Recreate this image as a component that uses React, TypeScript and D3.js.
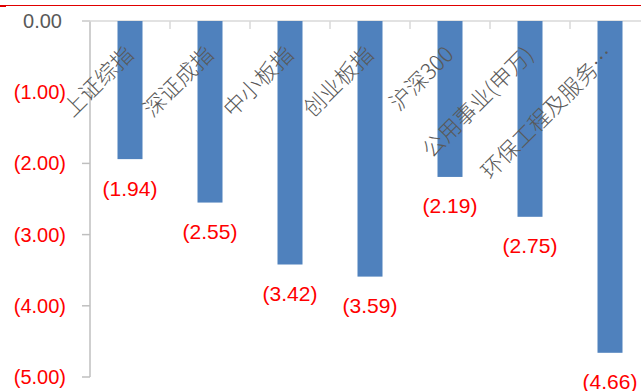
import React from "react";
import * as d3 from "d3";

const categories = ["上证综指", "深证成指", "中小板指", "创业板指", "沪深300", "公用事业(申万)", "环保工程及服务…"];
const changes = [-1.94, -2.55, -3.42, -3.59, -2.19, -2.75, -4.66];
const yTicks = [0, -1, -2, -3, -4, -5];

const W = 641;
const H = 391;

const fmt = (v: number) => {
  const s = Math.abs(v).toFixed(2);
  return v < 0 ? `(${s})` : s;
};

export default function App() {
  const x = d3
    .scaleBand<string>()
    .domain(categories)
    .range([90, 650])
    .paddingInner(0.6875)
    .paddingOuter(0.34375);
  const y = d3.scaleLinear().domain([0, -5]).range([21, 377]);
  const step = x.step();
  const numFont = "'Liberation Sans', Arial, sans-serif";
  const cjkFont = "'Noto Sans CJK SC', 'Liberation Sans', sans-serif";

  return (
    <svg
      width={W}
      height={H}
      style={{ position: "absolute", left: 0, top: 0, background: "#fff" }}
    >
      {/* header rule */}
      <line x1={0} x2={W} y1={5.5} y2={5.5} stroke="#E00000" strokeWidth={1} />
      <rect x={0} y={5} width={6} height={2} fill="#E00000" />

      {/* y axis */}
      <line x1={90} x2={90} y1={y(0)} y2={y(-5)} stroke="#BFBFBF" strokeWidth={1.5} />
      {yTicks.map((t) => (
        <g key={t}>
          <line x1={82} x2={90} y1={y(t)} y2={y(t)} stroke="#BFBFBF" strokeWidth={1.5} />
          <text
            x={t === 0 ? 62 : 66}
            y={y(t)}
            textAnchor="end"
            dominantBaseline="central"
            fontFamily={numFont}
            fontSize={20}
            fill={t === 0 ? "#595959" : "#FF0000"}
          >
            {fmt(t)}
          </text>
        </g>
      ))}

      {/* category axis at zero */}
      <line x1={82} x2={W} y1={y(0)} y2={y(0)} stroke="#D9D9D9" strokeWidth={1.5} />
      {categories.map((c, i) => (
        <line
          key={"tk" + c}
          x1={90 + (i + 1) * step}
          x2={90 + (i + 1) * step}
          y1={y(0)}
          y2={y(0) + 8}
          stroke="#D9D9D9"
          strokeWidth={1.5}
        />
      ))}

      {/* bars */}
      {categories.map((c, i) => (
        <rect
          key={"b" + c}
          x={x(c)}
          y={y(0)}
          width={x.bandwidth()}
          height={y(changes[i]) - y(0)}
          fill="#4F81BD"
        />
      ))}

      {/* category labels */}
      {categories.map((c) => {
        const cx = (x(c) as number) + x.bandwidth() / 2 + 5;
        const cy = 56;
        return (
          <text
            key={"l" + c}
            transform={`translate(${cx},${cy}) rotate(-45)`}
            textAnchor="end"
            fontFamily={cjkFont}
            fontWeight={300}
            fontSize={22}
            fill="#595959"
          >
            {c}
          </text>
        );
      })}

      {/* value labels */}
      {categories.map((c, i) => (
        <text
          key={"v" + c}
          x={(x(c) as number) + x.bandwidth() / 2}
          y={y(changes[i]) + 29}
          textAnchor="middle"
          dominantBaseline="central"
          fontFamily={numFont}
          fontSize={21}
          fill="#FF0000"
        >
          {fmt(changes[i])}
        </text>
      ))}
    </svg>
  );
}
